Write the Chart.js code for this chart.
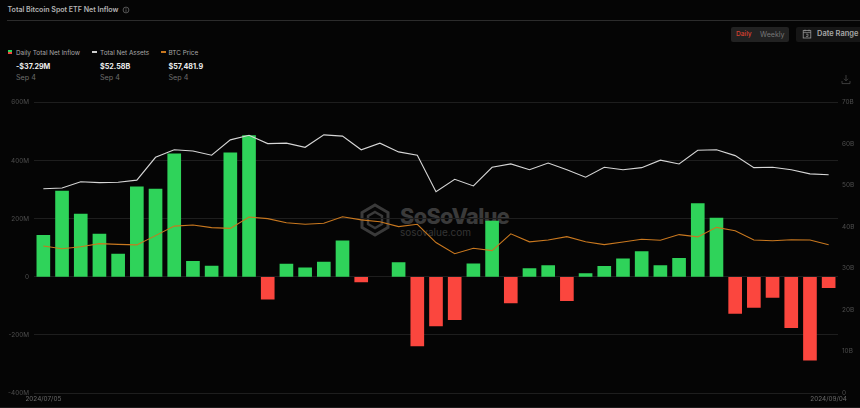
<!DOCTYPE html>
<html>
<head>
<meta charset="utf-8">
<script src="https://cdn.jsdelivr.net/npm/chart.js@4/dist/chart.umd.min.js"></script>
<style>
  html, body { margin: 0; padding: 0; background: #050505; }
  body { width: 860px; height: 408px; overflow: hidden; position: relative; font-family: Inter, Roboto, sans-serif; }
  .abs { position: absolute; white-space: nowrap; }
  #chart { position: absolute; left: 0; top: 0; }
  .legName { font-size: 6.4px; color: #a8a8a8; top: 48.5px; }
  .legVal { font-size: 7.2px; font-weight: 700; color: #eeeeee; top: 61.5px; }
  .legDate { font-size: 7.2px; color: #6e6e6e; top: 72.5px; }
  .swatch { width: 5px; height: 2px; top: 51px; }
</style>
</head>
<body>

<div class="abs" style="left:7.5px;top:5px;font-size:7.05px;font-weight:600;color:#b4b4b4">Total Bitcoin Spot ETF Net Inflow</div>
<svg class="abs" style="left:122px;top:6px" width="8" height="8" viewBox="0 0 8 8">
  <circle cx="4" cy="4" r="2.9" fill="none" stroke="#777" stroke-width=".7"/>
  <path d="M4 3.4V5.8M4 2.2V2.9" stroke="#777" stroke-width=".7"/>
</svg>
<div class="abs" style="left:7px;top:20px;width:853px;height:1px;background:#2c2c2c"></div>

<div class="abs" style="left:8px;top:50px;width:4px;height:2px;background:#2fd35a"></div>
<div class="abs" style="left:8px;top:52px;width:4px;height:2px;background:#f0483e"></div>
<div class="abs legName" style="left:16px">Daily Total Net Inflow</div>
<div class="abs legVal" style="left:16px">-$37.29M</div>
<div class="abs legDate" style="left:16px">Sep 4</div>
<div class="abs swatch" style="left:92px;background:#cfcfcf"></div>
<div class="abs legName" style="left:100px">Total Net Assets</div>
<div class="abs legVal" style="left:100px">$52.58B</div>
<div class="abs legDate" style="left:100px">Sep 4</div>
<div class="abs swatch" style="left:161px;background:#c9781f"></div>
<div class="abs legName" style="left:168.5px">BTC Price</div>
<div class="abs legVal" style="left:168.5px">$57,481.9</div>
<div class="abs legDate" style="left:168.5px">Sep 4</div>

<div class="abs" style="left:731px;top:27px;width:58px;height:15px;background:#222;border-radius:2px"></div>
<div class="abs" style="left:736px;top:30px;font-size:6.6px;font-weight:500;color:#d8402f">Daily</div>
<div class="abs" style="left:760px;top:30px;font-size:7.1px;color:#777">Weekly</div>
<div class="abs" style="left:796px;top:27px;width:64px;height:15px;background:#161616;border-radius:2px 0 0 2px"></div>
<svg class="abs" style="left:802px;top:29px" width="10" height="10" viewBox="0 0 10 10">
  <rect x="1.2" y="1.6" width="7.6" height="7.4" fill="none" stroke="#999" stroke-width=".8"/>
  <path d="M1.2 3.6H8.8M3 .6V2.4M7 .6V2.4M4 5.2H6V7.4H4" fill="none" stroke="#999" stroke-width=".7"/>
</svg>
<div class="abs" style="left:817px;top:29px;font-size:7.5px;font-weight:600;color:#a8a8a8">Date Range</div>
<svg class="abs" style="left:841px;top:74px" width="10" height="11" viewBox="0 0 10 11">
  <path d="M5 1V6.6M3 4.8L5 6.8L7 4.8M1 7V9.6H9V7" fill="none" stroke="#4a4a4a" stroke-width=".8"/>
</svg>

<svg class="abs" style="left:360px;top:203px" width="30" height="34" viewBox="0 0 30 34">
  <path d="M15 2L28 9.5V24.5L15 32L2 24.5V9.5Z" fill="none" stroke="#3a3a3a" stroke-width="3"/>
  <path d="M15 9L22 13V21L15 25L8 21V13Z" fill="none" stroke="#3a3a3a" stroke-width="2.4"/>
</svg>
<div class="abs" style="left:400px;top:203px;font-size:21.6px;font-weight:800;letter-spacing:-.6px;color:#3a3a3a">SoSoValue</div>
<div class="abs" style="left:400px;top:225.5px;font-size:10px;color:#343434">sosovalue.com</div>

<div class="abs" style="left:0;top:407px;width:860px;height:1px;background:#1c1c1c"></div>

<canvas id="chart" width="860" height="408"></canvas>

<script>
const categories = [
  '2024/07/05', '2024/07/08', '2024/07/09', '2024/07/10', '2024/07/11', '2024/07/12',
  '2024/07/15', '2024/07/16', '2024/07/17', '2024/07/18', '2024/07/19',
  '2024/07/22', '2024/07/23', '2024/07/24', '2024/07/25', '2024/07/26',
  '2024/07/29', '2024/07/30', '2024/07/31', '2024/08/01', '2024/08/02',
  '2024/08/05', '2024/08/06', '2024/08/07', '2024/08/08', '2024/08/09',
  '2024/08/12', '2024/08/13', '2024/08/14', '2024/08/15', '2024/08/16',
  '2024/08/19', '2024/08/20', '2024/08/21', '2024/08/22', '2024/08/23',
  '2024/08/26', '2024/08/27', '2024/08/28', '2024/08/29', '2024/08/30',
  '2024/09/03', '2024/09/04'
];

// daily net inflow, $M (no bar on 07/31)
const netInflow = [
  142.5, 295, 216, 147, 78, 310, 302, 423, 53, 37, 427,
  486, -77, 44, 31, 51, 124, -18, null, 49, -238,
  -169, -148, 45, 192, -90, 28, 39, -82, 11.5, 36,
  62, 87, 39, 64, 252, 202, -126, -105, -71, -175,
  -287, -37.29
];

// total net assets, $B
const netAssets = [
  49.2, 49.4, 50.9, 50.7, 50.8, 51.3, 56.8, 58.6, 58.3, 57.3, 61.0,
  62.1, 60.1, 60.2, 59.2, 62.2, 61.9, 58.6, 60.2, 58.1, 57.3,
  48.5, 51.5, 49.9, 54.4, 55.2, 53.8, 55.4, 53.8, 52.0, 54.4,
  53.8, 54.3, 56.1, 55.2, 58.5, 58.6, 57.2, 54.3, 54.4, 53.8,
  52.8, 52.58
];

// btc price, $
const btcPrice = [
  57000, 55900, 56700, 57900, 57600, 57400, 61000, 64700, 65100, 64100, 63800,
  68200, 67600, 66000, 65400, 65800, 68300, 67100, 66400, 64500, 65400,
  58300, 54000, 56100, 55200, 61700, 58600, 59300, 60600, 58600, 57500,
  58500, 59600, 59200, 61400, 60500, 64200, 62900, 59300, 59000, 59400,
  59300, 57481.9
];

const tickFont = { family: 'Inter, Roboto, sans-serif', size: 6.4 };
const tickColor = '#4e4e4e';

new Chart(document.getElementById('chart'), {
  type: 'bar',
  data: {
    labels: categories,
    datasets: [
      {
        type: 'line',
        label: 'Total Net Assets',
        data: netAssets,
        yAxisID: 'yAssets',
        borderColor: '#d6d6d6',
        borderWidth: 1.1,
        pointRadius: 0,
        tension: 0,
        order: 1
      },
      {
        type: 'line',
        label: 'BTC Price',
        data: btcPrice,
        yAxisID: 'yPrice',
        borderColor: '#c9781f',
        borderWidth: 1.1,
        pointRadius: 0,
        tension: 0,
        order: 0
      },
      {
        label: 'Daily Total Net Inflow',
        data: netInflow,
        yAxisID: 'yFlow',
        backgroundColor: netInflow.map(v => v >= 0 ? '#2fd35a' : '#fb463e'),
        barThickness: 13,
        order: 2
      }
    ]
  },
  options: {
    responsive: false,
    animation: false,
    layout: { padding: { top: 102.5 } },
    plugins: { legend: { display: false }, tooltip: { enabled: false } },
    scales: {
      x: {
        grid: { display: false, drawTicks: false },
        border: { display: false },
        afterFit: s => { s.height = 15; },
        ticks: {
          autoSkip: false,
          maxRotation: 0,
          padding: 2,
          font: tickFont,
          color: '#6a6a6a',
          callback: (v, i) => (i === 0 || i === categories.length - 1) ? categories[i] : ''
        }
      },
      yFlow: {
        position: 'left',
        min: -400,
        max: 600,
        afterFit: s => { s.width = 34; },
        border: { display: false },
        grid: { color: '#1e1e1e', lineWidth: 1, drawTicks: false },
        ticks: {
          stepSize: 200,
          padding: 5,
          font: tickFont,
          color: tickColor,
          callback: v => v === 0 ? '0' : v + 'M'
        }
      },
      yAssets: {
        position: 'right',
        min: 0,
        max: 70,
        afterFit: s => { s.width = 22; },
        border: { display: false },
        grid: { display: false, drawTicks: false },
        ticks: {
          stepSize: 10,
          padding: 4,
          font: tickFont,
          color: tickColor,
          callback: v => v === 0 ? '0' : v + 'B'
        }
      },
      yPrice: {
        display: false,
        min: 0,
        max: 112600
      }
    }
  }
});
</script>
</body>
</html>
